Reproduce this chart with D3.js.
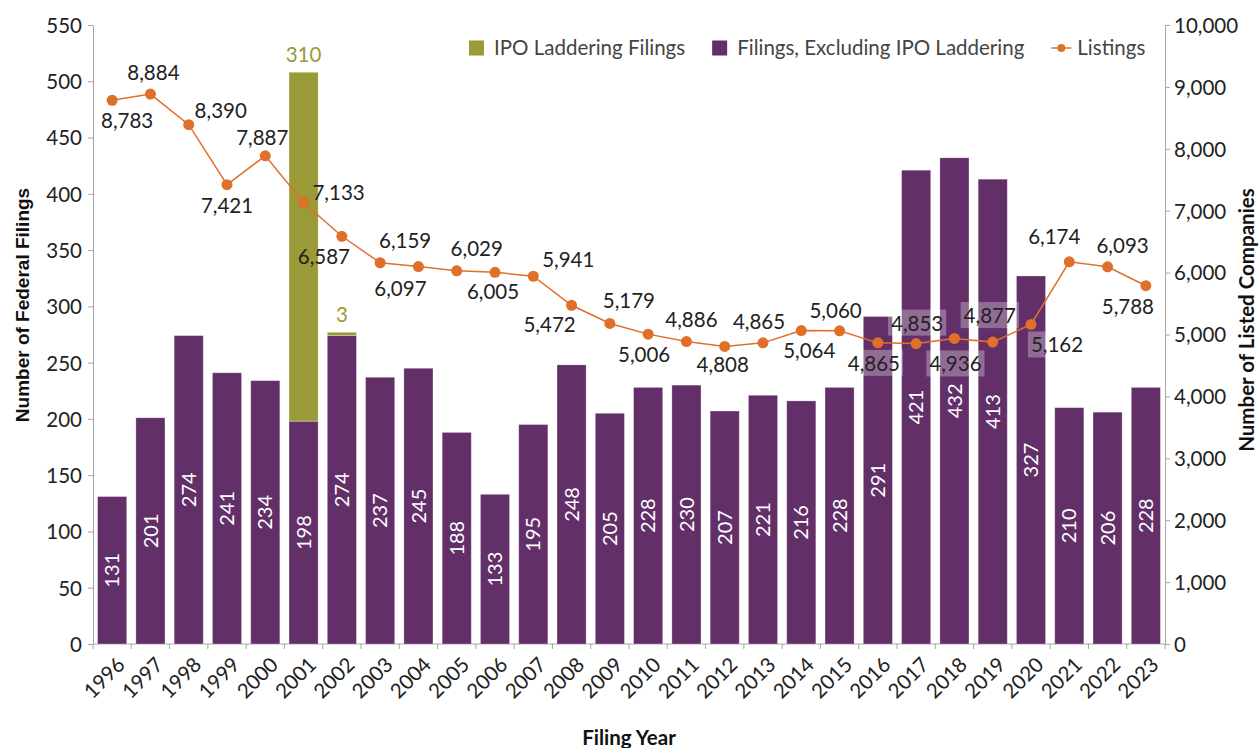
<!DOCTYPE html>
<html>
<head>
<meta charset="utf-8">
<script src="https://cdn.jsdelivr.net/npm/d3@7"></script>
<style>
  body { margin: 0; background: #fff; }
  svg { display: block; font-family: Lato, "Open Sans", sans-serif; }
  .axis path, .axis line { stroke: #a6a6a6; }
  .axis text { fill: #222; font-size: 20.5px; font-family: Lato, sans-serif; }
</style>
</head>
<body>
<svg id="chart" width="1260" height="748"></svg>
<script>
// filing years (x categories)
var years = ["1996","1997","1998","1999","2000","2001","2002","2003","2004","2005",
             "2006","2007","2008","2009","2010","2011","2012","2013","2014","2015",
             "2016","2017","2018","2019","2020","2021","2022","2023"];

// filings excluding IPO laddering
var filings = [131, 201, 274, 241, 234, 198, 274, 237, 245, 188,
               133, 195, 248, 205, 228, 230, 207, 221, 216, 228,
               291, 421, 432, 413, 327, 210, 206, 228];

// IPO laddering filings
var ipoFilings = [0, 0, 0, 0, 0, 310, 3, 0, 0, 0,
                  0, 0, 0, 0, 0, 0, 0, 0, 0, 0,
                  0, 0, 0, 0, 0, 0, 0, 0];

// listed companies
var listings = [8783, 8884, 8390, 7421, 7887, 7133, 6587, 6159, 6097, 6029,
                6005, 5941, 5472, 5179, 5006, 4886, 4808, 4865, 5064, 5060,
                4865, 4853, 4936, 4877, 5162, 6174, 6093, 5788];

var leftTicks = [0, 50, 100, 150, 200, 250, 300, 350, 400, 450, 500, 550];
var rightTicks = [0, 1000, 2000, 3000, 4000, 5000, 6000, 7000, 8000, 9000, 10000];

// label nudges for the listing labels [dx, dy] relative to the point
var labelOffsets = [[15,28],[3,-14],[32,-7],[0,28],[-3,-11],[35,-2],[-18,28],[25,-15],[-18,29],[20,-15],
                    [-2,27],[35,-9],[-22,27],[19,-15],[-4,28],[5,-15],[-2,26],[-4,-14],[8,27],[-4,-13],
                    [-4,28],[1,-13],[1,33],[-3,-19],[26,28],[-15,-18],[15,-14],[-18,28]];
// listing labels drawn with a faint box (they sit on the tall bars)
var boxedYears = ["2016","2017","2018","2019","2020"];

var purple = "#622f69",
    olive = "#9a9a38",
    orange = "#e06f2a";

var margin = {top: 25, right: 95, bottom: 104, left: 93},
    width = 1260,
    height = 748,
    plotW = width - margin.left - margin.right,
    plotH = height - margin.top - margin.bottom;

var svg = d3.select("#chart");
var g = svg.append("g").attr("transform", "translate(" + margin.left + "," + margin.top + ")");

var x = d3.scaleBand()
    .domain(years)
    .range([0, plotW])
    .paddingInner(0.24)
    .paddingOuter(0.12);

var yL = d3.scaleLinear().domain([0, 550]).range([plotH, 0]);
var yR = d3.scaleLinear().domain([0, 10000]).range([plotH, 0]);

// left axis
g.append("g")
    .attr("class", "axis")
    .call(d3.axisLeft(yL).tickValues(leftTicks).tickSize(5).tickSizeOuter(0).tickPadding(6))
    .selectAll("text").attr("dy", "0.36em");

// right axis
g.append("g")
    .attr("class", "axis")
    .attr("transform", "translate(" + plotW + ",0)")
    .call(d3.axisRight(yR).tickValues(rightTicks).tickSize(5).tickSizeOuter(0).tickPadding(4)
      .tickFormat(d3.format(",")))
    .selectAll("text").attr("dy", "0.36em");

// bottom axis: baseline + ticks at band edges
var xAx = g.append("g").attr("class", "axis").attr("transform", "translate(0," + plotH + ")");
xAx.append("line").attr("x1", 0).attr("x2", plotW).attr("y1", 0).attr("y2", 0);
var edges = years.map(function(d){ return x(d) - x.step() * x.paddingInner() / 2; });
edges.push(plotW);
xAx.selectAll(".edge")
  .data(edges)
  .enter().append("line")
    .attr("class", "edge")
    .attr("x1", function(d){ return d; })
    .attr("x2", function(d){ return d; })
    .attr("y1", 0)
    .attr("y2", 5);
xAx.selectAll(".yr")
  .data(years)
  .enter().append("text")
    .attr("class", "yr")
    .attr("text-anchor", "end")
    .attr("transform", function(d){
      return "translate(" + (x(d) + x.bandwidth() / 2 + 14) + ",22) rotate(-45)";
    })
    .text(function(d){ return d; });

// bars
var bars = g.append("g");
bars.selectAll(".base")
  .data(years)
  .enter().append("rect")
    .attr("class", "base")
    .attr("x", function(d){ return x(d); })
    .attr("width", x.bandwidth())
    .attr("y", function(d, i){ return yL(filings[i]); })
    .attr("height", function(d, i){ return plotH - yL(filings[i]); })
    .attr("fill", purple)
    .attr("stroke", "#fff")
    .attr("stroke-opacity", 0.35)
    .attr("stroke-width", 0.8);

bars.selectAll(".ipo")
  .data(years.filter(function(d, i){ return ipoFilings[i] > 0; }))
  .enter().append("rect")
    .attr("class", "ipo")
    .attr("x", function(d){ return x(d); })
    .attr("width", x.bandwidth())
    .attr("y", function(d){ var i = years.indexOf(d); return yL(filings[i] + ipoFilings[i]); })
    .attr("height", function(d){ var i = years.indexOf(d); return yL(filings[i]) - yL(filings[i] + ipoFilings[i]); })
    .attr("fill", olive)
    .attr("stroke", "#fff")
    .attr("stroke-opacity", 0.35)
    .attr("stroke-width", 0.8);

// bar value labels (rotated, inside)
bars.selectAll(".blab")
  .data(years)
  .enter().append("text")
    .attr("class", "blab")
    .attr("text-anchor", "middle")
    .attr("dy", "0.36em")
    .attr("fill", "#fff")
    .style("font-size", "20px")
    .attr("transform", function(d, i){
      var cx = x(d) + x.bandwidth() / 2,
          cy = (yL(filings[i]) + plotH) / 2;
      return "translate(" + cx + "," + cy + ") rotate(-90)";
    })
    .text(function(d, i){ return filings[i]; });

// IPO labels above bars
bars.selectAll(".ilab")
  .data(years.filter(function(d, i){ return ipoFilings[i] > 0; }))
  .enter().append("text")
    .attr("class", "ilab")
    .attr("text-anchor", "middle")
    .attr("fill", olive)
    .style("font-size", "20.5px")
    .attr("x", function(d){ return x(d) + x.bandwidth() / 2; })
    .attr("y", function(d){ var i = years.indexOf(d); return yL(filings[i] + ipoFilings[i]) - 10; })
    .text(function(d){ return ipoFilings[years.indexOf(d)]; });

// listings line
var line = d3.line()
    .x(function(d, i){ return x(years[i]) + x.bandwidth() / 2; })
    .y(function(d){ return yR(d); });

g.append("path")
    .datum(listings)
    .attr("d", line)
    .attr("fill", "none")
    .attr("stroke", orange)
    .attr("stroke-width", 1.5);

g.selectAll(".dot")
  .data(listings)
  .enter().append("circle")
    .attr("class", "dot")
    .attr("cx", function(d, i){ return x(years[i]) + x.bandwidth() / 2; })
    .attr("cy", function(d){ return yR(d); })
    .attr("r", 5.5)
    .attr("fill", orange);

// listing labels with faint white box where they sit on bars
var fmt = d3.format(",");
var lab = g.selectAll(".llab")
  .data(listings)
  .enter().append("g")
    .attr("class", "llab")
    .attr("transform", function(d, i){
      var px = x(years[i]) + x.bandwidth() / 2 + labelOffsets[i][0],
          py = yR(d) + labelOffsets[i][1];
      return "translate(" + px + "," + py + ")";
    });
lab.append("text")
    .attr("text-anchor", "middle")
    .attr("fill", "#222")
    .style("font-size", "20.5px")
    .text(function(d){ return fmt(d); });
lab.filter(function(d, i){ return boxedYears.indexOf(years[i]) >= 0; })
  .each(function(){
    var t = d3.select(this).select("text").node().getBBox();
    d3.select(this).insert("rect", "text")
      .attr("fill", "#fff")
      .attr("fill-opacity", 0.3)
      .attr("x", t.x - 3).attr("y", t.y - 1)
      .attr("width", t.width + 6).attr("height", t.height + 2);
  });

// axis titles
svg.append("text")
    .attr("transform", "translate(29," + (margin.top + 280) + ") rotate(-90)")
    .attr("text-anchor", "middle")
    .style("font-family", "'Liberation Sans', Arial, sans-serif")
    .style("font-weight", "bold")
    .style("font-size", "19px")
    .attr("fill", "#111")
    .text("Number of Federal Filings");

svg.append("text")
    .attr("transform", "translate(1254," + (margin.top + 295) + ") rotate(-90)")
    .attr("text-anchor", "middle")
    .style("font-weight", "bold")
    .style("font-size", "20.5px")
    .attr("fill", "#111")
    .text("Number of Listed Companies");

svg.append("text")
    .attr("x", 629)
    .attr("y", 745)
    .attr("text-anchor", "middle")
    .style("font-weight", "bold")
    .style("font-size", "20.5px")
    .attr("fill", "#111")
    .text("Filing Year");

// legend
var legendItems = [
  {name: "IPO Laddering Filings", type: "box", color: olive},
  {name: "Filings, Excluding IPO Laddering", type: "box", color: purple},
  {name: "Listings", type: "line", color: orange}
];
var lg = svg.append("g").attr("transform", "translate(469,48)");
var lx = 0;
legendItems.forEach(function(it){
  var item = lg.append("g").attr("transform", "translate(" + lx + ",0)");
  var textX;
  if (it.type == "box") {
    item.append("rect").attr("x", 0).attr("y", -7.5).attr("width", 15).attr("height", 15).attr("fill", it.color);
    textX = 25;
  } else {
    item.append("line").attr("x1", 0).attr("x2", 20).attr("y1", 0).attr("y2", 0)
      .attr("stroke", it.color).attr("stroke-width", 1.5);
    item.append("circle").attr("cx", 10).attr("cy", 0).attr("r", 4).attr("fill", it.color);
    textX = 26;
  }
  var t = item.append("text")
    .attr("x", textX)
    .attr("dy", "0.35em")
    .attr("fill", "#444")
    .style("font-size", "20.5px")
    .text(it.name);
  lx += textX + t.node().getComputedTextLength() + 27;
});
</script>
</body>
</html>
